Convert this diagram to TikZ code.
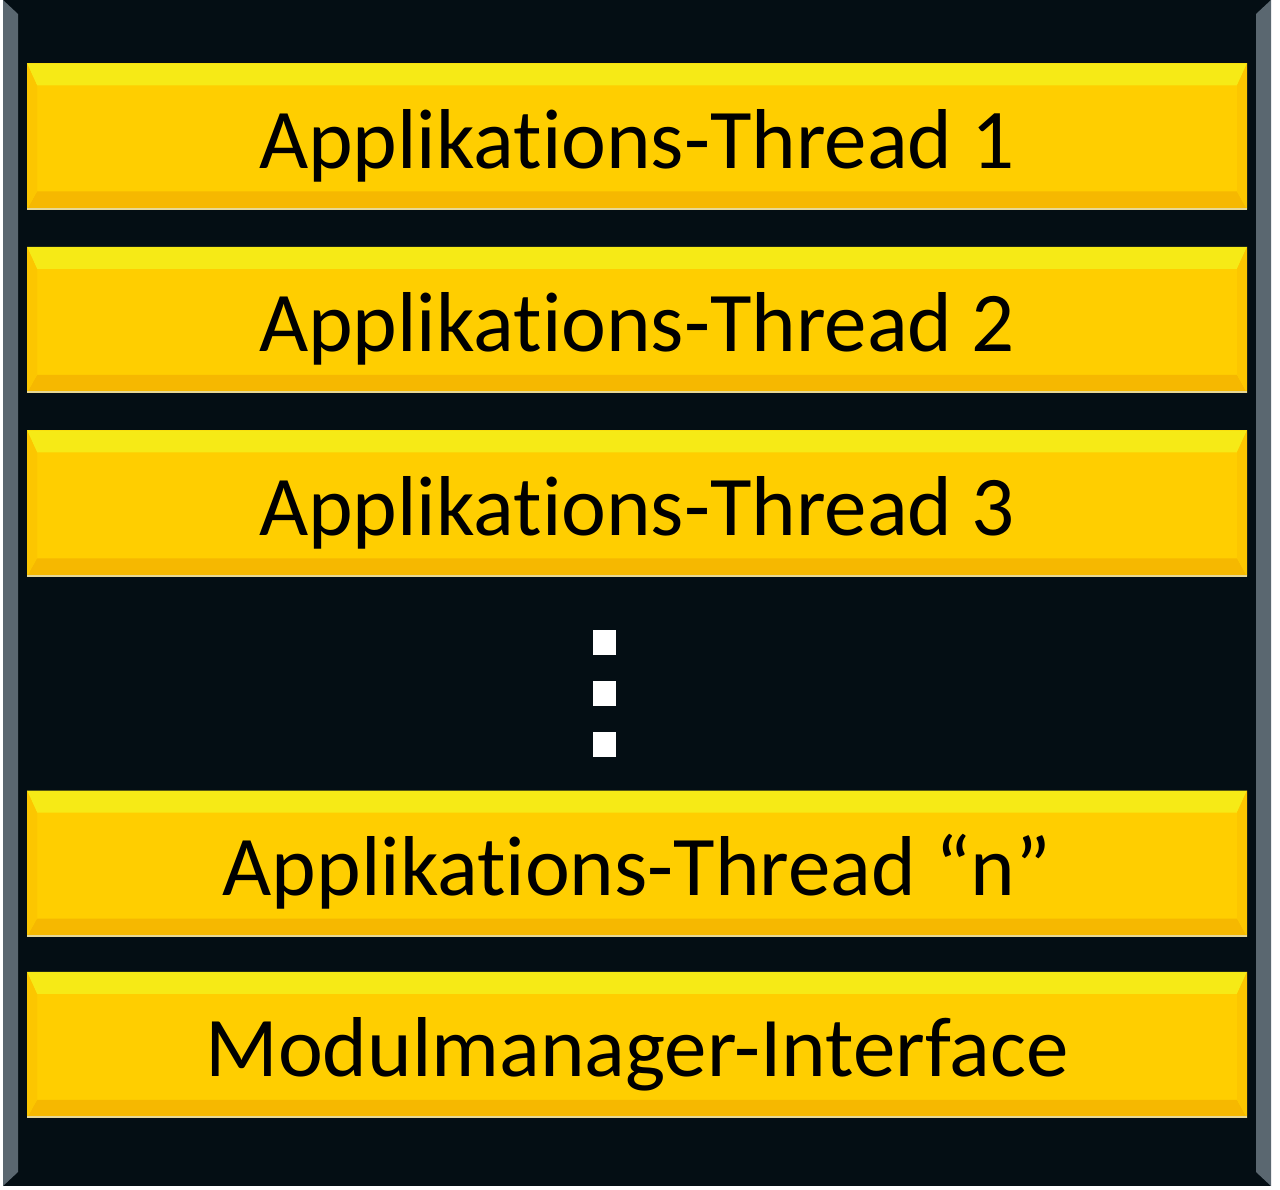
\documentclass[tikz,border=0pt]{standalone}
\usepackage{fontspec}
\newfontfamily\barfont[Ligatures=NoCommon]{Carlito}
\usetikzlibrary{positioning}
\definecolor{framebg}{RGB}{4,14,20}
\definecolor{framegray}{RGB}{90,103,112}
\definecolor{barbase}{RGB}{255,206,0}
\definecolor{beveltop}{RGB}{246,234,22}
\definecolor{bevelside}{RGB}{252,198,0}
\definecolor{bevelbottom}{RGB}{246,184,0}
\definecolor{barrim}{RGB}{230,215,150}
\tikzset{
  threadbar/.style={minimum width=1220pt, minimum height=146pt, inner sep=0pt,
    text height=64pt, text depth=0pt,
    fill=barbase, text=black, font={\barfont\fontsize{85}{92}\selectfont},
    path picture={
      \fill[beveltop] (path picture bounding box.north west) -- (path picture bounding box.north east)
        -- ([xshift=-10pt,yshift=-22pt]path picture bounding box.north east)
        -- ([xshift=10pt,yshift=-22pt]path picture bounding box.north west) -- cycle;
      \fill[bevelbottom] (path picture bounding box.south west) -- (path picture bounding box.south east)
        -- ([xshift=-10pt,yshift=18pt]path picture bounding box.south east)
        -- ([xshift=10pt,yshift=18pt]path picture bounding box.south west) -- cycle;
      \fill[bevelside] (path picture bounding box.north west)
        -- ([xshift=10pt,yshift=-22pt]path picture bounding box.north west)
        -- ([xshift=10pt,yshift=18pt]path picture bounding box.south west)
        -- (path picture bounding box.south west) -- cycle;
      \fill[bevelside] (path picture bounding box.north east)
        -- ([xshift=-10pt,yshift=-22pt]path picture bounding box.north east)
        -- ([xshift=-10pt,yshift=18pt]path picture bounding box.south east)
        -- (path picture bounding box.south east) -- cycle;
      \draw[barrim, line width=3pt] (path picture bounding box.south west) -- (path picture bounding box.south east);
    }},
  dotbox/.style={fill=white, minimum width=23pt, minimum height=25pt, inner sep=0pt}
}
\begin{document}
\begin{tikzpicture}[x=1pt, y=-1pt, node distance=37pt]
  \useasboundingbox (0,0) rectangle (1280,1190);
  \fill[white] (0,0) rectangle (1280,1190);
  % frame
  \fill[framebg] (3,0) rectangle (1271,1186);
  \fill[framegray] (3,0) -- (18,14) -- (18,1172) -- (3,1186) -- cycle;
  \fill[framegray] (1271,0) -- (1256,14) -- (1256,1172) -- (1271,1186) -- cycle;
  % threads
  \node[threadbar] (thread1) at (637,136.5) {Applikations-Thread 1};
  \node[threadbar, below=of thread1] (thread2) {Applikations-Thread 2};
  \node[threadbar, below=of thread2] (thread3) {Applikations-Thread 3};
  \node[dotbox] (dot1) at (604,642) {};
  \node[dotbox, below=26pt of dot1] (dot2) {};
  \node[dotbox, below=26pt of dot2] (dot3) {};
  \node[threadbar] (threadn) at (637,863.5) {Applikations-Thread “n”};
  \node[threadbar, below=35pt of threadn] (modman) {Modulmanager-Interface};
\end{tikzpicture}
\end{document}
